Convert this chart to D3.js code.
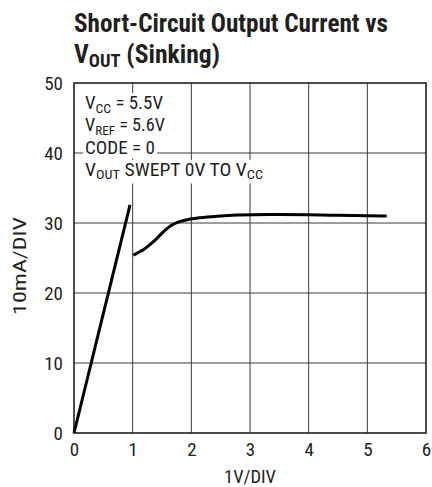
<!DOCTYPE html>
<html><head><meta charset="utf-8">
<script src="https://cdn.jsdelivr.net/npm/d3@7"></script>
<style>
body{margin:0;background:#fff;}
svg{display:block;}
text{font-family:"Roboto Condensed","Liberation Sans Narrow",Roboto,sans-serif;fill:#231f20;}
.title{font-weight:bold;}
</style></head>
<body>
<svg id="c" width="432" height="487"></svg>
<script>
const xTicks = [0,1,2,3,4,5,6];
const yTicks = [0,10,20,30,40,50];
const linearSeg = [[0,0],[0.955,32.6]];
const curveSeg = [[1.01,25.4],[1.1,25.8],[1.2,26.3],[1.3,26.95],[1.4,27.7],[1.5,28.55],[1.6,29.3],[1.7,29.85],[1.8,30.2],[1.95,30.5],[2.15,30.75],[2.5,31.0],[2.8,31.15],[3.5,31.2],[4.5,31.1],[5.33,31.0]];
const noteLines = [
  [["V",""],["CC","sub"],[" = 5.5V",""]],
  [["V",""],["REF","sub"],[" = 5.6V",""]],
  [["CODE = 0",""]],
  [["V",""],["OUT","sub"],[" SWEPT 0V TO V",""],["CC","sub"]]
];
const noteWidths = [78, 80, 70, 178];

const svg = d3.select("#c");
const L=74, R=426, T=83, B=433;
const x = d3.scaleLinear().domain([0,6]).range([L,R]);
const y = d3.scaleLinear().domain([0,50]).range([B,T]);

function richText(sel, parts, subSize, shift){
  let prevSub=false;
  parts.forEach(([s,k])=>{
    const ts = sel.append("tspan").text(s);
    const isSub = k==="sub";
    if(isSub){ ts.attr("font-size",subSize); if(!prevSub) ts.attr("dy",shift); }
    else if(prevSub){ ts.attr("dy",-shift); }
    prevSub=isSub;
  });
}

// title
svg.append("text").attr("class","title").attr("x",74).attr("y",32).attr("font-size",25)
  .attr("textLength",314).attr("lengthAdjust","spacingAndGlyphs")
  .text("Short-Circuit Output Current vs");
const t2 = svg.append("text").attr("class","title").attr("x",74).attr("y",63).attr("font-size",25)
  .attr("textLength",146).attr("lengthAdjust","spacingAndGlyphs");
richText(t2, [["V",""],["OUT","sub"],[" (Sinking)",""]], 18, 4);

// grid
const g = svg.append("g");
g.selectAll(".vx").data(xTicks.slice(1,-1)).join("line")
  .attr("x1",d=>x(d)).attr("x2",d=>x(d)).attr("y1",T).attr("y2",B)
  .attr("stroke","#3a3a3a").attr("stroke-width",1);
g.selectAll(".hy").data(yTicks.slice(1,-1)).join("line")
  .attr("y1",d=>y(d)).attr("y2",d=>y(d)).attr("x1",L).attr("x2",R)
  .attr("stroke","#3a3a3a").attr("stroke-width",1);

// notes with white background
const notes = svg.append("g");
noteLines.forEach((ln,i)=>{
  const tx = notes.append("text").attr("x",85).attr("y",109+i*22.3).attr("font-size",18)
    .attr("textLength",noteWidths[i]).attr("lengthAdjust","spacingAndGlyphs");
  richText(tx, ln, 13, 3.5);
});
notes.selectAll("text").each(function(){
  const bb=this.getBBox();
  notes.insert("rect","text").attr("x",bb.x-2).attr("y",bb.y+1).attr("width",bb.width+4).attr("height",bb.height).attr("fill","#fff");
});

// frame
svg.append("rect").attr("x",L).attr("y",T).attr("width",R-L).attr("height",B-T)
  .attr("fill","none").attr("stroke","#231f20").attr("stroke-width",1.6);

// axes labels
const xa = d3.axisBottom(x).tickValues(xTicks).tickFormat(d3.format("d")).tickSize(0).tickPadding(10);
const xg = svg.append("g").attr("transform",`translate(0,${B})`).call(xa);
xg.select(".domain").remove();
xg.selectAll("text").attr("font-size",19).attr("font-family",null).attr("fill","#231f20");
const ya = d3.axisLeft(y).tickValues(yTicks).tickFormat(d3.format("d")).tickSize(0).tickPadding(11);
const yg = svg.append("g").attr("transform",`translate(${L},0)`).call(ya);
yg.select(".domain").remove();
yg.selectAll("text").attr("font-size",19).attr("font-family",null).attr("fill","#231f20");

svg.append("text").attr("x",x(3)).attr("y",483).attr("text-anchor","middle").attr("font-size",19)
  .attr("textLength",52).attr("lengthAdjust","spacingAndGlyphs").text("1V/DIV");
svg.append("text").attr("transform","translate(26,266) rotate(-90)").attr("text-anchor","middle").attr("font-size",19)
  .attr("textLength",98).attr("lengthAdjust","spacingAndGlyphs").text("10mA/DIV");

// curves
const line = d3.line().x(d=>x(d[0])).y(d=>y(d[1]));
svg.append("path").datum(linearSeg).attr("d",line).attr("fill","none").attr("stroke","#000").attr("stroke-width",3);
svg.append("path").datum(curveSeg).attr("d",line.curve(d3.curveMonotoneX)).attr("fill","none").attr("stroke","#000").attr("stroke-width",3);
</script>
</body></html>
